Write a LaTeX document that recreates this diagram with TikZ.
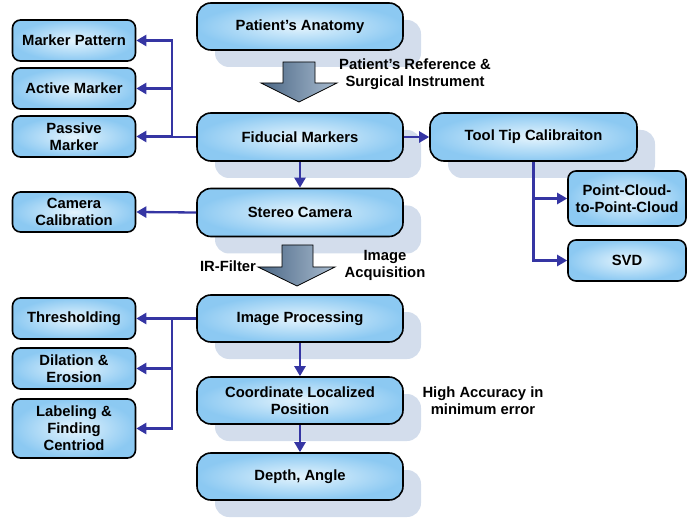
\documentclass[tikz,border=0pt]{standalone}
\usepackage{fontspec}
\setmainfont{Liberation Sans}
\usetikzlibrary{arrows.meta,shadows}
\definecolor{boxin}{HTML}{E4F4FD}
\definecolor{boxout}{HTML}{8CC9F2}
\definecolor{shad}{HTML}{D3DDEC}
\definecolor{connc}{HTML}{3535A3}
\definecolor{arrdark}{HTML}{4A6684}
\definecolor{arrlight}{HTML}{A9BCD0}
\tikzset{
  txt/.style={font=\bfseries\fontsize{14.8}{17}\selectfont, align=center, inner sep=0pt},
  mainbox/.style={txt, draw=black, line width=1.6pt, rounded corners=14pt,
    inner color=boxin, outer color=boxout, minimum width=206pt, minimum height=47pt,
    general shadow={fill=shad, shadow xshift=18pt, shadow yshift=-17pt}},
  sidebox/.style={txt, draw=black, line width=1.6pt, rounded corners=8pt,
    inner color=boxin, outer color=boxout, minimum width=123pt, minimum height=41pt},
  conn/.style={draw=connc, line width=2.3pt, -{Triangle[length=10pt,width=11pt]}},
  line/.style={draw=connc, line width=2.3pt},
  blockarrow/.style={left color=arrdark, right color=arrlight, draw=black, line width=0.8pt}
}
\begin{document}
\begin{tikzpicture}[x=1pt,y=-1pt]
\useasboundingbox (0,0) rectangle (687,518);
% main column
\node[mainbox] (anat) at (300,26.5) {Patient’s Anatomy};
\node[mainbox, minimum height=48pt] (fid) at (300,137) {Fiducial Markers};
\node[mainbox, minimum height=48pt] (stereo) at (300,212.5) {Stereo Camera};
\node[mainbox, minimum width=207pt, minimum height=48pt] (tool) at (533.5,137) {Tool Tip Calibraiton};
\node[mainbox] (imgp) at (300,318.5) {Image Processing};
\node[mainbox] (coord) at (300,400.5) {Coordinate Localized\\Position};
\node[mainbox] (depth) at (300,476.5) {Depth, Angle};
% right boxes
\node[sidebox, minimum width=118pt, minimum height=55pt] (pcpc) at (627,198.5) {Point-Cloud-\\to-Point-Cloud};
\node[sidebox, minimum width=118pt] (svd) at (627,260.5) {SVD};
% left boxes
\node[sidebox] (mp) at (74,40.5) {Marker Pattern};
\node[sidebox] (am) at (74,88.5) {Active Marker};
\node[sidebox] (pm) at (74,136.5) {Passive\\Marker};
\node[sidebox, minimum height=40pt] (cc) at (74,212) {Camera\\Calibration};
\node[sidebox] (thr) at (74,318.5) {Thresholding};
\node[sidebox] (dil) at (74,368.5) {Dilation \&\\Erosion};
\node[sidebox, minimum height=59pt] (lab) at (74,428.5) {Labeling \&\\Finding\\Centriod};
% block arrows
\shade[blockarrow] (283,62) -- (315,62) -- (315,83) -- (337,83) -- (299,102) -- (261,83) -- (283,83) -- cycle;
\shade[blockarrow] (282,245) -- (313,245) -- (313,267) -- (335,267) -- (297,286) -- (258,267) -- (282,267) -- cycle;
% labels
\node[txt] (lref) at (415,74) {Patient’s Reference \&\\Surgical Instrument};
\node[txt] (lir) at (228,266) {IR-Filter};
\node[txt] (lacq) at (385,265) {Image\\Acquisition};
\node[txt] (lacc) at (483,401) {High Accuracy in\\minimum error};
% connectors
\coordinate (busA) at (172,137);
\coordinate (busB) at (172,318.5);
\draw[line] (fid.west) -- (busA);
\draw[conn] (busA) |- (mp.east);
\draw[conn] (busA) |- (am.east);
\draw[conn] (busA) |- (pm.east);
\draw[conn] (fid.south) -- (stereo.north);
\draw[conn] (fid.east) -- (tool.west);
\draw[conn] (tool.south) |- (pcpc.west);
\draw[conn] (tool.south) |- (svd.west);
\draw[conn] (stereo.west) -- (cc.east);
\draw[line] (imgp.west) -- (busB);
\draw[conn] (busB) -- (thr.east);
\draw[conn] (busB) |- (dil.east);
\draw[conn] (busB) |- (lab.east);
\draw[conn] (imgp.south) -- (coord.north);
\draw[conn] (coord.south) -- (depth.north);
\end{tikzpicture}
\end{document}
